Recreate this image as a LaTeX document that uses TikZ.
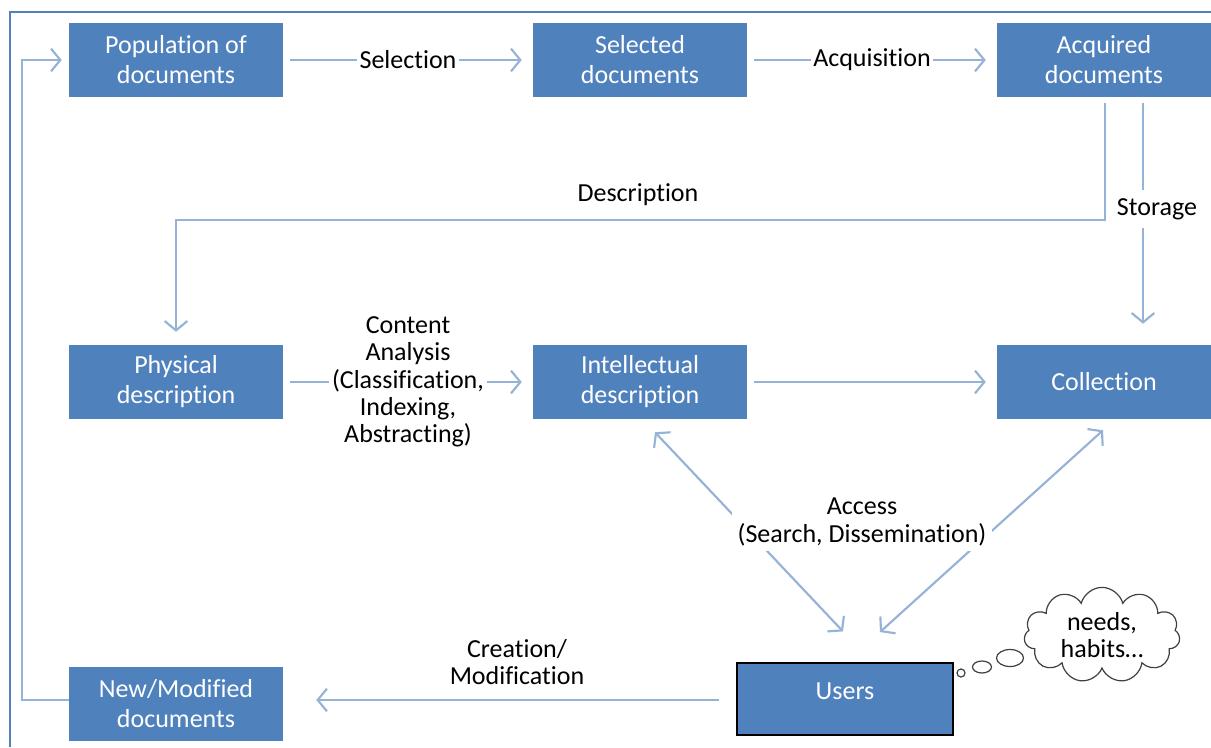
\documentclass[tikz,border=0pt]{standalone}
\usepackage{fontspec}
\setmainfont{Carlito}[Ligatures=NoCommon]
\usetikzlibrary{arrows.meta,shapes.symbols}
\definecolor{boxblue}{HTML}{4F81BD}
\definecolor{arrblue}{HTML}{95B3D7}
\begin{document}
\begin{tikzpicture}[x=0.75pt,y=-0.75pt,
  box/.style={fill=boxblue, text=white, minimum width=160.5pt, minimum height=55.5pt,
    inner sep=0pt, align=center, font=\fontsize{19.5}{22.5}\selectfont},
  conn/.style={draw=arrblue, line width=1.6pt},
  tip/.style={-{Straight Barb[length=7pt,width=17pt]}},
  both/.style={{Straight Barb[length=7pt,width=17pt]}-{Straight Barb[length=7pt,width=17pt]}},
  lbl/.style={fill=white, text=black, align=center, inner sep=2pt,
    font=\fontsize{19.5}{20.5}\selectfont},
  bubble/.style={draw=black!75, fill=white, line width=0.9pt}
]
\useasboundingbox (0,0) rectangle (1211,747);
\fill[white] (0,0) rectangle (1211,747);
% frame
\draw[boxblue, line width=1.4pt] (10,747) -- (10,12) -- (1211,12);

% boxes
\node[box] (pop)  at (176,60)  {Population of\\documents};
\node[box] (sel)  at (640,60)  {Selected\\documents};
\node[box] (acq)  at (1104,60) {Acquired\\documents};
\node[box] (phys) at (176,382) {Physical\\description};
\node[box] (intel) at (640,382) {Intellectual\\description};
\node[box] (coll) at (1104,382) {Collection};
\node[box, draw=black, line width=1.4pt, minimum width=162pt, minimum height=54pt] (users) at (845,699) {\raisebox{12pt}{Users}};
\node[box] (newd) at (176,704) {New/Modified\\documents};

% top row
\draw[conn,tip,shorten <=5.25pt,shorten >=8.25pt] (pop.east) -- node[lbl] (lsel) {Selection} (sel.west);
\draw[conn,tip,shorten <=5.25pt,shorten >=8.25pt] (sel.east) -- node[lbl] (lacq) {Acquisition} (acq.west);

% description
\draw[conn,tip] ([xshift=0.75pt,yshift=-4.5pt]acq.south) -- ++(0,117) -| ([yshift=9.75pt]phys.north);
\node[lbl] (ldesc) at (638,195) {Description};

% storage
\draw[conn,tip] ([xshift=29.25pt,yshift=-4.5pt]acq.south) -- ([xshift=29.25pt,yshift=15.75pt]coll.north);
\node[lbl, inner ysep=6pt] (lsto) at (1157,209) {Storage};

% middle row
\draw[conn,tip,shorten <=5.25pt,shorten >=8.25pt] (phys.east) -- node[lbl] (lca) {Content\\Analysis\\(Classification,\\Indexing,\\Abstracting)} (intel.west);
\draw[conn,tip,shorten <=5.25pt,shorten >=8.25pt] (intel.east) -- (coll.west);

% access
\draw[conn,both] ([xshift=-1.5pt,yshift=23pt]users.north) -- ([xshift=11.25pt,yshift=-9.75pt]intel.south);
\draw[conn,both] ([xshift=26.25pt,yshift=22.5pt]users.north) -- ([xshift=-0.75pt,yshift=-8.25pt]coll.south);
\node[lbl, inner sep=4pt] (lacc) at (862,522) {Access\\(Search, Dissemination)};

% creation
\draw[conn,tip] ([xshift=-12.75pt,yshift=-0.75pt]users.west) -- ([xshift=24.75pt,yshift=3pt]newd.east);
\node[lbl] (lcre) at (517,662) {Creation/\\Modification};

% feedback loop
\draw[conn,tip] ([yshift=3pt]newd.west) -- ++(-47,0) |- ([xshift=-5.25pt]pop.west);

% thought bubble
\draw[bubble] (961,673) circle [radius=4];
\draw[bubble] (982,667) ellipse [x radius=9.5, y radius=6];
\draw[bubble] (1010,658) ellipse [x radius=13.5, y radius=8.5];
\node[cloud, cloud puffs=11, aspect=1.6, draw=black!75, fill=white, line width=0.9pt,
  minimum width=117pt, minimum height=70pt, inner sep=0pt, align=center,
  font=\fontsize{19.5}{20.5}\selectfont] (cloud) at (1102,635) {needs,\\habits…};
\end{tikzpicture}
\end{document}
